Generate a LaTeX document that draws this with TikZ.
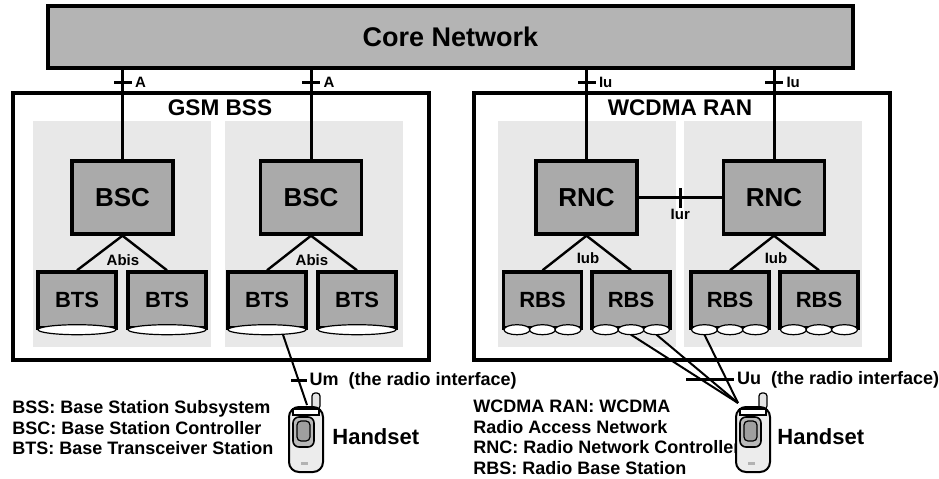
\documentclass[tikz,border=0pt]{standalone}
\usepackage{fontspec}
\setmainfont{Liberation Sans}
\usepackage{tikz}
\usetikzlibrary{shapes,arrows,positioning,calc}
\definecolor{coregray}{RGB}{180,180,180}
\definecolor{boxgray}{RGB}{170,170,170}
\definecolor{panelgray}{RGB}{232,232,232}

\begin{document}
\begin{tikzpicture}[x=0.5pt, y=-0.5pt]
    % Stili
    \tikzset{
        core/.style={rectangle, draw, line width=1.7pt, fill=coregray, minimum width=402.5pt, minimum height=31pt, font=\bfseries\fontsize{13.5}{16}\selectfont},
        ranbox/.style={rectangle, draw, line width=2pt, minimum width=208pt, minimum height=133.5pt},
        panel/.style={rectangle, fill=panelgray, minimum width=89pt, minimum height=113pt},
        ctrl/.style={rectangle, draw, line width=1.7pt, fill=boxgray, minimum width=50.5pt, minimum height=36.5pt, font=\bfseries\fontsize{13}{15}\selectfont},
        station/.style={rectangle, draw, line width=1.7pt, fill=boxgray, minimum width=39pt, minimum height=28pt, font=\bfseries\fontsize{11}{13}\selectfont},
        title/.style={font=\bfseries\fontsize{11.3}{13}\selectfont, inner sep=1pt},
        lbl/.style={font=\bfseries\fontsize{7.5}{9}\selectfont, inner sep=1pt},
        radiolbl/.style={font=\bfseries\fontsize{9}{11}\selectfont, inner sep=1pt},
        legend/.style={anchor=west, align=left, inner sep=0pt, font=\bfseries\fontsize{9}{10.25}\selectfont},
        hand/.style={anchor=west, inner sep=0pt, font=\bfseries\fontsize{11}{13}\selectfont},
        link/.style={line width=1.5pt},
        branch/.style={line width=1.2pt},
        radio/.style={line width=1pt},
        tickh/.style={fill=black, minimum width=9pt, minimum height=1.5pt, inner sep=0pt, outer sep=0pt},
        tickv/.style={fill=black, minimum width=1.5pt, minimum height=10pt, inner sep=0pt, outer sep=0pt},
        handset/.pic={
            \draw[line width=0.6pt, fill=gray!20, rounded corners=1.5pt] (23,-14) rectangle (31,2);
            \draw[line width=1pt, fill=gray!15, rounded corners=5pt] (0,0) rectangle (34,65);
            \draw[line width=0.6pt, fill=white] (4,2) rectangle (30,8);
            \draw[line width=0.8pt, fill=gray!55, rounded corners=3pt] (4,10) rectangle (25,40);
            \draw[line width=0.6pt, fill=gray!75, rounded corners=2pt] (8,14) rectangle (21,34);
            \fill[gray!60] (12,55) rectangle (19,58);
            \coordinate (-hinge) at (18,-2);
            \coordinate (-corner) at (2,-4);
        }
    }
    \useasboundingbox (0,0) rectangle (939,478);

    % Rete core
    \node[core] (core) at (450.5,37) {Core Network};

    % Sottosistemi
    \node[ranbox] (gsm) at (220.5,226.5) {};
    \node[ranbox] (wcdma) at (681.5,226.5) {};
    \node[panel] (pg1) at (121.5,234) {};
    \node[panel] (pg2) at (313.5,234) {};
    \node[panel] (pw1) at (586.5,234) {};
    \node[panel] (pw2) at (773,234) {};
    \node[title] (gsmt) at (220,108) {GSM BSS};
    \node[title] (wcdmat) at (680,108) {WCDMA RAN};

    % Controller
    \node[ctrl] (bsc1) at (122.5,197.5) {BSC};
    \node[ctrl] (bsc2) at (311,197.5) {BSC};
    \node[ctrl] (rnc1) at (586.5,197.5) {RNC};
    \node[ctrl] (rnc2) at (774,197.5) {RNC};

    % Stazioni
    \node[station] (bts1) at (77,300) {BTS};
    \node[station] (bts2) at (167,300) {BTS};
    \node[station] (bts3) at (267,300) {BTS};
    \node[station] (bts4) at (357,300) {BTS};
    \node[station] (rbs1) at (542.5,300) {RBS};
    \node[station] (rbs2) at (631,300) {RBS};
    \node[station] (rbs3) at (730,300) {RBS};
    \node[station] (rbs4) at (819,300) {RBS};

    \foreach \s in {bts1,bts2,bts3,bts4}
        \draw[line width=0.6pt, fill=white] (\s.south) ellipse (19.5pt and 2.5pt);
    \foreach \s in {rbs1,rbs2,rbs3,rbs4}
        \foreach \dx in {-12.75,0,12.75}
            \draw[line width=0.6pt, fill=white] ([xshift=\dx pt]\s.south) ellipse (6.5pt and 2.5pt);

    % Interfacce A e Iu
    \foreach \c/\l in {bsc1/A, bsc2/A, rnc1/Iu, rnc2/Iu}
        \draw[link] (\c.north |- core.south) -- node[tickh, pos=0.14, label={[lbl]right:\l}] {} (\c.north);

    % Abis e Iub
    \foreach \c/\a/\b in {bsc1/bts1/bts2, bsc2/bts3/bts4, rnc1/rbs1/rbs2, rnc2/rbs3/rbs4}
        \draw[branch] (\a.north) -- (\c.south) -- (\b.north);
    \node[lbl] (abis1) at (123,260) {Abis};
    \node[lbl] (abis2) at (312,260) {Abis};
    \node[lbl] (iub1) at (588,258) {Iub};
    \node[lbl] (iub2) at (776,258) {Iub};

    % Iur
    \draw[link] (rnc1.east) -- node[tickv, label={[lbl, label distance=-1pt]below:Iur}] (iur) {} (rnc2.west);

    % Legende
    \node[legend] (leg1) at (12,428) {BSS: Base Station Subsystem\\BSC: Base Station Controller\\BTS: Base Transceiver Station};
    \node[legend] (leg2) at (473,437.5) {WCDMA RAN: WCDMA\\Radio Access Network\\RNC: Radio Network Controller\\RBS: Radio Base Station};

    % Terminali
    \pic (hs1) at (289,407) {handset};
    \pic (hs2) at (736,407) {handset};
    \node[hand] (hand1) at (332,437) {Handset};
    \node[hand] (hand2) at (777,437) {Handset};

    % Interfacce radio Um e Uu
    \draw[radio] ([xshift=8pt, yshift=-2.5pt]bts3.south) -- node[tickh, minimum width=8pt, pos=0.65, label={[radiolbl]right:Um\ \ (the radio interface)}] (um) {} (hs1-hinge);
    \draw[radio] ([yshift=-2.5pt]rbs2.south) -- (hs2-corner);
    \draw[radio] ([xshift=12.75pt, yshift=-2.5pt]rbs2.south) -- node[tickh, minimum width=24pt, pos=0.657, label={[radiolbl]right:Uu\ \ (the radio interface)}] (uu) {} (hs2-corner);
    \draw[radio] ([xshift=-12.75pt, yshift=-2.5pt]rbs3.south) -- (hs2-corner);

\end{tikzpicture}
\end{document}
